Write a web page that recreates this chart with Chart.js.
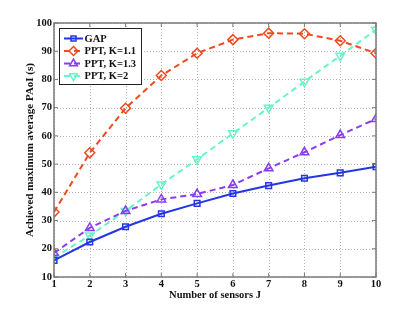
<!DOCTYPE html>
<html><head><meta charset="utf-8">
<script src="https://cdn.jsdelivr.net/npm/chart.js@4"></script>
<style>html,body{margin:0;padding:0;background:#fff}#w{width:415px;height:311px}</style>
</head><body><div id="w"><canvas id="c" width="415" height="311"></canvas></div>
<script>
const categories = [1,2,3,4,5,6,7,8,9,10];
const gap   = [15.9,22.4,27.8,32.4,36.1,39.6,42.4,45.0,46.9,49.1];
const k11   = [33.0,54.0,69.8,81.4,89.3,94.1,96.4,96.2,93.7,89.3];
const k13   = [18.5,27.4,33.4,37.5,39.4,42.6,48.5,54.2,60.3,66.0];
const k2    = [16.9,24.7,33.4,42.8,51.7,60.9,70.0,79.2,88.4,97.6];
const yTicks = [10,20,30,40,50,60,70,80,90,100];
const seriesNames = ['GAP','PPT, K=1.1','PPT, K=1.3','PPT, K=2'];

const FONT = '"Liberation Serif", "Times New Roman", serif';
const FS = 10.5;
function ds(label, data, color, style, dash, rot){
  return {label, data: data.map((v,i)=>({x:categories[i], y:v})), borderColor:color, backgroundColor:'rgba(0,0,0,0)',
    borderWidth:2, borderDash:dash, pointStyle:style, pointRotation:rot||0, pointRadius: style==='rect'?4:5,
    pointBorderWidth:1.5, pointBorderColor:color, pointBackgroundColor:'rgba(0,0,0,0)', tension:0};
}
const colors = ['#2336e6','#f04a1e','#8a3cf0','#66f5c8'];
const styles = [['rect',0],['rectRot',0],['triangle',0],['triangle',180]];
const dashes = [[],[6,4],[6,4],[6,4]];
const datasets = [gap,k11,k13,k2].map((d,i)=>ds(seriesNames[i], d, colors[i], styles[i][0], dashes[i], styles[i][1]));

const gridPlugin = {
  id:'dotgrid',
  beforeDatasetsDraw(chart){
    const {ctx, chartArea:a} = chart;
    const xs = chart.scales.x, ys = chart.scales.y;
    ctx.save();
    ctx.strokeStyle = '#b4b4b4'; ctx.lineWidth = 1; ctx.setLineDash([1,2]);
    categories.forEach(v=>{ const x = Math.round(xs.getPixelForValue(v))+0.5;
      ctx.beginPath(); ctx.moveTo(x,a.top); ctx.lineTo(x,a.bottom); ctx.stroke(); });
    yTicks.forEach(v=>{ const y = Math.round(ys.getPixelForValue(v))+0.5;
      ctx.beginPath(); ctx.moveTo(a.left,y); ctx.lineTo(a.right,y); ctx.stroke(); });
    ctx.restore();
  },
  afterDatasetsDraw(chart){
    const {ctx, chartArea:a} = chart;
    const xs = chart.scales.x, ys = chart.scales.y;
    ctx.save();
    ctx.strokeStyle = '#7a7a7a'; ctx.lineWidth = 1.5; ctx.setLineDash([]);
    ctx.strokeRect(a.left, a.top, a.right-a.left, a.bottom-a.top);
    ctx.lineWidth = 1;
    categories.forEach(v=>{ const x = xs.getPixelForValue(v);
      ctx.beginPath(); ctx.moveTo(x,a.bottom); ctx.lineTo(x,a.bottom-4); ctx.moveTo(x,a.top); ctx.lineTo(x,a.top+4); ctx.stroke(); });
    yTicks.forEach(v=>{ const y = ys.getPixelForValue(v);
      ctx.beginPath(); ctx.moveTo(a.left,y); ctx.lineTo(a.left+4,y); ctx.moveTo(a.right,y); ctx.lineTo(a.right-4,y); ctx.stroke(); });
    // legend
    const lx = 59, ly = 28, lw = 82, lh = 56;
    ctx.fillStyle = '#fff'; ctx.fillRect(lx,ly,lw,lh);
    ctx.strokeStyle = '#222'; ctx.lineWidth = 1; ctx.strokeRect(lx+0.5,ly+0.5,lw,lh);
    ctx.font = 'bold ' + FS + 'px ' + FONT; ctx.textBaseline = 'middle'; ctx.textAlign='left';
    chart.data.datasets.forEach((d,i)=>{
      const y = ly + 10.5 + i*12.5;
      ctx.strokeStyle = d.borderColor; ctx.lineWidth = 2; ctx.setLineDash(d.borderDash);
      ctx.beginPath(); ctx.moveTo(lx+5,y); ctx.lineTo(lx+24,y); ctx.stroke();
      ctx.setLineDash([]); ctx.lineWidth = 1.5; ctx.fillStyle = 'rgba(0,0,0,0)';
      Chart.helpers.drawPoint(ctx, {pointStyle:d.pointStyle, rotation:d.pointRotation, radius:d.pointRadius-0.5, borderWidth:1.5}, lx+14.5, y);
      ctx.fillStyle = '#111'; ctx.fillText(d.label, lx+25.5, y+0.5);
    });
    ctx.restore();
  }
};

new Chart(document.getElementById('c'), {
  type:'line',
  data:{datasets},
  options:{
    responsive:false, animation:false,
    layout:{padding:{left:24,right:39,top:23,bottom:9}},
    plugins:{legend:{display:false}, tooltip:{enabled:false}},
    scales:{
      x:{type:'linear', min:1, max:10,
        afterBuildTicks(s){ s.ticks = categories.map(v=>({value:v})); },
        afterFit(s){ s.height = 25; },
        grid:{display:false, drawTicks:false},
        border:{display:false},
        ticks:{color:'#111', font:{family:FONT, size:FS, weight:'bold'}, padding:1, maxRotation:0},
        title:{display:true, text:'Number of sensors J', color:'#111', font:{family:FONT, size:FS, weight:'bold'}, padding:{top:0,bottom:0}}
      },
      y:{type:'linear', min:10, max:100,
        afterBuildTicks(s){ s.ticks = yTicks.map(v=>({value:v})); },
        afterFit(s){ s.width = 30; },
        grid:{display:false, drawTicks:false},
        border:{display:false},
        ticks:{color:'#111', font:{family:FONT, size:FS, weight:'bold'}, padding:2},
        title:{display:true, text:'Achieved maximum average PAoI (s)', color:'#111', font:{family:FONT, size:FS+0.5, weight:'bold'}, padding:{top:0,bottom:0}}
      }
    }
  },
  plugins:[gridPlugin]
});
</script></body></html>
